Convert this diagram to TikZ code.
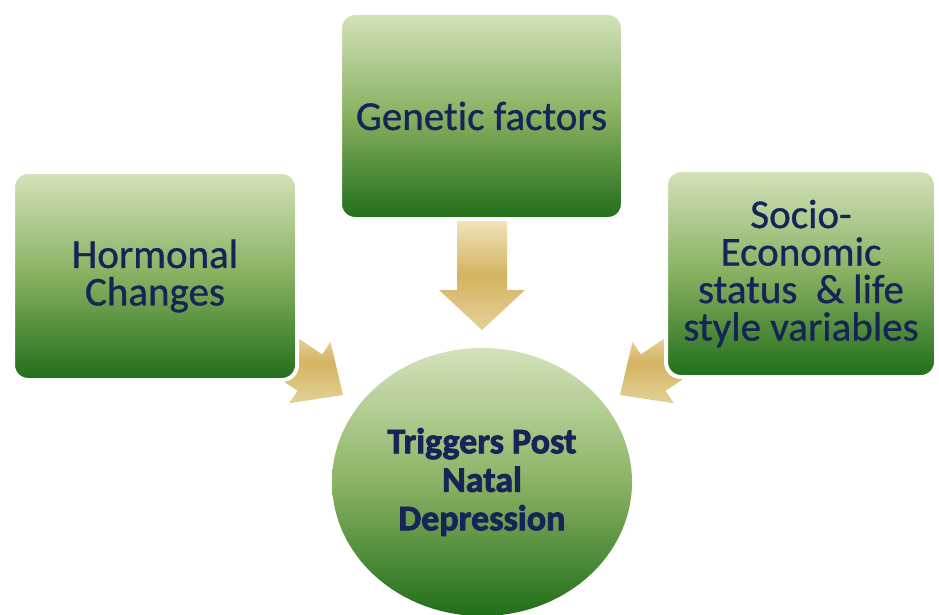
\documentclass[tikz,border=0pt]{standalone}
\usepackage{fontspec}
\setmainfont{Carlito}[Ligatures=NoCommon]
\newfontfamily\boxfont[FakeBold=0.8,Ligatures=NoCommon]{Carlito}
\newfontfamily\heavyfont[FakeBold=2.2,Ligatures=NoCommon]{Carlito Bold}
\usetikzlibrary{shapes.geometric}
\definecolor{txt}{RGB}{22,36,88}
\definecolor{gtop}{RGB}{212,226,186}
\definecolor{gmid}{RGB}{135,176,96}
\definecolor{gbot}{RGB}{32,110,26}
\definecolor{atop}{RGB}{242,230,190}
\definecolor{amid}{RGB}{212,180,98}
\definecolor{abot}{RGB}{228,208,150}
\tikzset{
  factor/.style={rectangle, rounded corners=15pt, draw=white, line width=4pt,
    top color=gtop, bottom color=gbot, middle color=gmid,
    text=txt, align=center, inner sep=0pt,
    font=\boxfont\fontsize{41}{37.5}\selectfont},
  result/.style={ellipse, inner sep=0pt, draw=none,
    top color=gtop, bottom color=gbot, middle color=gmid!95!gtop,
    text=txt, align=center,
    font=\heavyfont\fontsize{36}{38.5}\selectfont},
  blockarrow/.style={top color=atop, bottom color=abot, middle color=amid, draw=none}
}
\begin{document}
\begin{tikzpicture}[x=1pt,y=-1pt]
\useasboundingbox (0,0) rectangle (939,615);
\fill[white] (0,0) rectangle (939,615);

% block arrows (drawn first, behind the shapes)
\coordinate (tipT) at (482,330);
\coordinate (tipL) at (343,395);
\coordinate (tipR) at (620,395);
\begin{scope}[shift={(tipT)}, rotate=-90]
  \shade[blockarrow] (0,0) -- (-40,43) -- (-40,25) -- (-112,25) -- (-112,-25) -- (-40,-25) -- (-40,-43) -- cycle;
\end{scope}
\begin{scope}[shift={(tipL)}, rotate=-34]
  \shade[blockarrow] (0,0) -- (-40,37) -- (-40,22) -- (-100,22) -- (-100,-22) -- (-40,-22) -- (-40,-37) -- cycle;
\end{scope}
\begin{scope}[shift={(tipR)}, rotate=-146]
  \shade[blockarrow] (0,0) -- (-40,37) -- (-40,22) -- (-100,22) -- (-100,-22) -- (-40,-22) -- (-40,-37) -- cycle;
\end{scope}

% nodes
\node[factor, minimum width=284pt, minimum height=208pt] (horm) at (155,276) {Hormonal\\Changes};
\node[factor, minimum width=283pt, minimum height=206pt] (gene) at (481.5,116) {Genetic factors};
\node[factor, minimum width=270pt, minimum height=207pt] (socio) at (801,273.5) {Socio-\\Economic\\status \ \& life\\style variables};
\node[result, minimum width=300pt, minimum height=268pt] (trig) at (482,482) {Triggers Post\\Natal\\Depression};
\end{tikzpicture}
\end{document}
